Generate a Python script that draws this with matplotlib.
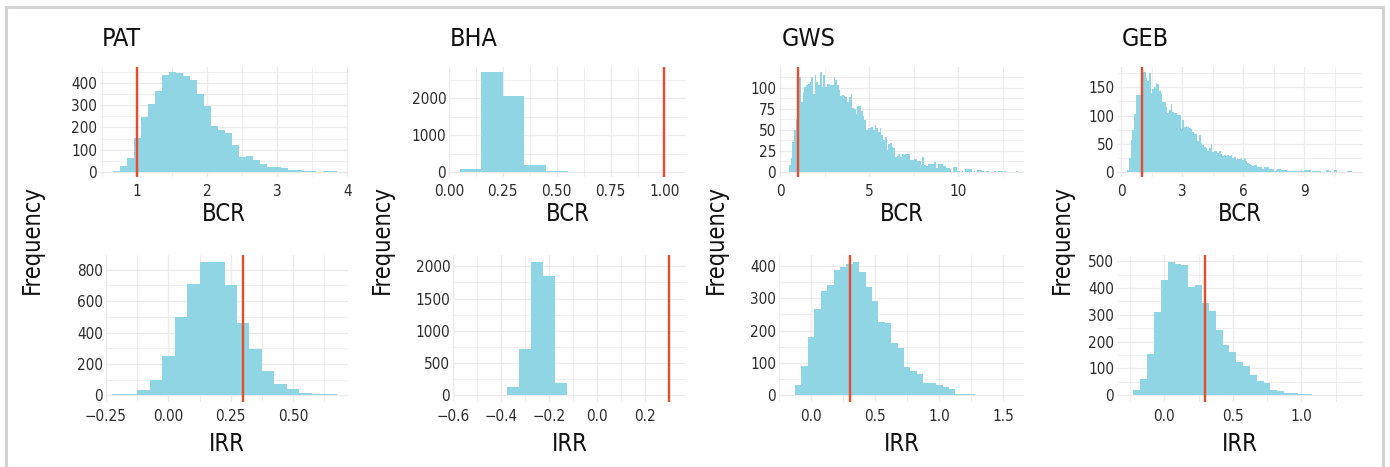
import numpy as np
import matplotlib.pyplot as plt
from matplotlib.ticker import MultipleLocator, FixedLocator, FuncFormatter
from matplotlib.patches import Rectangle

plt.rcParams['font.family'] = ['Liberation Sans Narrow', 'DejaVu Sans']
plt.rcParams['font.stretch'] = 'condensed'

# ---- data (bin counts) ----
projects = ['PAT', 'BHA', 'GWS', 'GEB']
bcr_threshold = 1.0
irr_threshold = 0.3

# first bin edge, bin width, counts
pat_bcr_start, pat_bcr_width = 0.65, 0.1
pat_bcr_counts = [3, 27, 61, 151, 247, 304, 363, 434, 449, 444, 430, 412, 348, 296, 207, 190,
                  173, 123, 67, 74, 56, 34, 22, 21, 18, 9, 9, 3, 3, 1, 3, 3]
pat_irr_start, pat_irr_width = -0.225, 0.05
pat_irr_counts = [6, 6, 32, 95, 248, 500, 709, 851, 851, 705, 459, 292, 152, 74, 38, 13, 6, 6]

bha_bcr_start, bha_bcr_width = 0.05, 0.1
bha_bcr_counts = [90, 2708, 2063, 179, 18]
bha_irr_start, bha_irr_width = -0.575, 0.05
bha_irr_counts = [4, 4, 5, 8, 134, 723, 2072, 1845, 196]

gws_bcr_start, gws_bcr_width = 0.506, 0.096
gws_bcr_counts = [8, 17, 36, 50, 63, 63, 113, 83, 95, 101, 104, 105, 107, 113, 93, 115, 107, 104,
                  119, 101, 115, 101, 105, 105, 103, 104, 113, 109, 103, 97, 91, 92, 91, 89, 83,
                  89, 93, 76, 75, 69, 79, 79, 73, 67, 62, 50, 52, 52, 54, 50, 56, 52, 48, 52, 44,
                  38, 42, 26, 33, 34, 30, 28, 18, 19, 22, 18, 22, 20,
                  21, 21, 21, 14, 14, 16, 16, 13, 13, 8, 18, 8, 7, 10, 10, 9, 9, 12, 5, 10, 9, 9,
                  7, 7, 5, 5, 3, 0, 6, 6, 1, 1, 0, 1, 0, 3, 3, 3, 3, 0, 1, 0, 2, 2, 2, 1, 0, 1, 1,
                  0, 0, 0, 1, 0, 1, 1, 1, 0, 1, 0, 0, 0, 0, 0, 0, 1]
gws_irr_start, gws_irr_width = -0.175, 0.05
gws_irr_counts = [2, 33, 92, 181, 268, 321, 342, 386, 396, 407, 413, 382, 336, 293, 228, 225, 163,
                  147, 86, 74, 67, 39, 39, 33, 25, 21, 5, 5, 5, 2, 2, 2, 0, 0, 2]

geb_bcr_start, geb_bcr_width = 0.3, 0.082
geb_bcr_counts = [4, 25, 57, 75, 102, 137, 137, 137, 148, 177, 177, 167, 161, 175, 139, 147, 151,
                  157, 155, 144, 139, 124, 124, 115, 104, 109, 121, 107, 104, 104, 101, 101, 76,
                  92, 80, 82, 80, 77, 76, 71, 67, 67, 55, 66, 52, 48, 44, 42, 38, 42, 50, 36, 38,
                  37, 34, 38, 32, 28, 30, 29, 30, 28, 30, 24, 26, 22, 23, 23, 24, 22,
                  24, 19, 16, 15, 13, 10, 13, 12, 8, 9, 9, 6, 9, 9, 9, 6, 6, 6, 2, 3, 6, 5, 4, 4,
                  4, 3, 2, 2, 2, 2, 2, 2, 1, 2, 3, 1, 3, 3, 3, 3, 0, 1, 1, 1, 1, 1, 0, 0, 0, 3, 3,
                  1, 0, 0, 3, 3, 0, 0, 0, 0, 0, 0, 1, 1, 1, 0]
geb_irr_start, geb_irr_width = -0.275, 0.05
geb_irr_counts = [2, 21, 62, 155, 311, 430, 498, 490, 486, 404, 412, 345, 315, 244, 189, 163, 125,
                  110, 77, 55, 47, 21, 17, 10, 10, 5, 5, 2, 2, 2, 0, 0, 2]

bcr_data = [(pat_bcr_start, pat_bcr_width, pat_bcr_counts), (bha_bcr_start, bha_bcr_width, bha_bcr_counts),
            (gws_bcr_start, gws_bcr_width, gws_bcr_counts), (geb_bcr_start, geb_bcr_width, geb_bcr_counts)]
irr_data = [(pat_irr_start, pat_irr_width, pat_irr_counts), (bha_irr_start, bha_irr_width, bha_irr_counts),
            (gws_irr_start, gws_irr_width, gws_irr_counts), (geb_irr_start, geb_irr_width, geb_irr_counts)]

bcr_xticks = [[1, 2, 3, 4], [0, 0.25, 0.5, 0.75, 1.0], [0, 5, 10], [0, 3, 6, 9]]
irr_xticks = [[-0.25, 0, 0.25, 0.5], [-0.6, -0.4, -0.2, 0, 0.2], [0, 0.5, 1.0, 1.5], [0, 0.5, 1.0]]
bcr_xdec = [0, 2, 0, 0]
irr_xdec = [2, 1, 1, 1]
bcr_ystep = [100, 1000, 25, 50]
irr_ystep = [200, 500, 100, 100]

# ---- layout (pixels of a 1390x467 canvas) ----
W, H = 1390, 467
bcr_xlim = [(0.47, 4.01), (0.0, 1.10), (-0.06, 13.7), (-0.21, 11.9)]
irr_xlim = [(-0.25, 0.72), (-0.60, 0.37), (-0.25, 1.66), (-0.345, 1.45)]
bcr_cols = [(100, 348), (449, 686), (779, 1024), (1117, 1363)]
irr_cols = [(106, 348), (453, 686), (779, 1024), (1117, 1363)]
row1 = (67, 177)
row2 = (255, 402)
title_x = [102, 450, 782, 1122]
freq_x = [32, 382, 716, 1062]

BAR = '#8fd5e3'
RED = '#ec4a2c'
GRID = '#ebebeb'

fig = plt.figure(figsize=(W / 100, H / 100), dpi=100)


def rect(cols, rows):
    l, r = cols
    t, b = rows
    return [l / W, 1 - b / H, (r - l) / W, (b - t) / H]


def fmt(dec):
    return FuncFormatter(lambda v, p: ('%.*f' % (dec, v)).replace('-', '\u2212'))


def hist_panel(ax, d, thr, xlim, xticks, dec, ystep, xlabel, labelpad):
    start, width, counts = d
    counts = np.asarray(counts, dtype=float)
    edges = start + width * np.arange(len(counts) + 1)
    ax.stairs(counts, edges, fill=True, color=BAR, lw=0, zorder=2)
    ax.axvline(thr, color=RED, lw=1.7, zorder=3)
    top = counts.max()
    ax.set_xlim(xlim)
    ax.set_ylim(-0.05 * top, 1.05 * top)
    ax.xaxis.set_major_locator(FixedLocator(xticks))
    ax.xaxis.set_minor_locator(MultipleLocator((xticks[1] - xticks[0]) / 2))
    ax.xaxis.set_major_formatter(fmt(dec))
    ax.yaxis.set_major_locator(MultipleLocator(ystep))
    ax.yaxis.set_minor_locator(MultipleLocator(ystep / 2))
    ax.grid(which='major', color=GRID, lw=1.0)
    ax.grid(which='minor', color=GRID, lw=0.55)
    ax.set_axisbelow(True)
    for s in ax.spines.values():
        s.set_visible(False)
    ax.tick_params(which='both', length=0, labelsize=11, colors='#2b2b2b')
    ax.tick_params(axis='x', pad=5)
    ax.tick_params(axis='y', pad=2)
    ax.set_xlabel(xlabel, fontsize=17, labelpad=labelpad, color='#111111')


for i, name in enumerate(projects):
    ax1 = fig.add_axes(rect(bcr_cols[i], row1))
    hist_panel(ax1, bcr_data[i], bcr_threshold, bcr_xlim[i], bcr_xticks[i], bcr_xdec[i], bcr_ystep[i],
               'BCR', 2)
    ax2 = fig.add_axes(rect(irr_cols[i], row2))
    hist_panel(ax2, irr_data[i], irr_threshold, irr_xlim[i], irr_xticks[i], irr_xdec[i], irr_ystep[i],
               'IRR', 6)
    fig.text(title_x[i] / W, 1 - 39 / H, name, fontsize=18, ha='left', va='center', color='#111111')
    fig.text(freq_x[i] / W, 1 - 239 / H, 'Frequency', fontsize=17, rotation=90,
             ha='center', va='center', color='#111111')

# light grey frame (bottom edge falls outside the canvas)
fig.add_artist(Rectangle((6 / W, -0.1), (1383 - 6) / W, 1.1 - 6.5 / H, transform=fig.transFigure,
                         fill=False, edgecolor='#d3d3d3', lw=2.2))

fig.savefig('out.png', dpi=100)
